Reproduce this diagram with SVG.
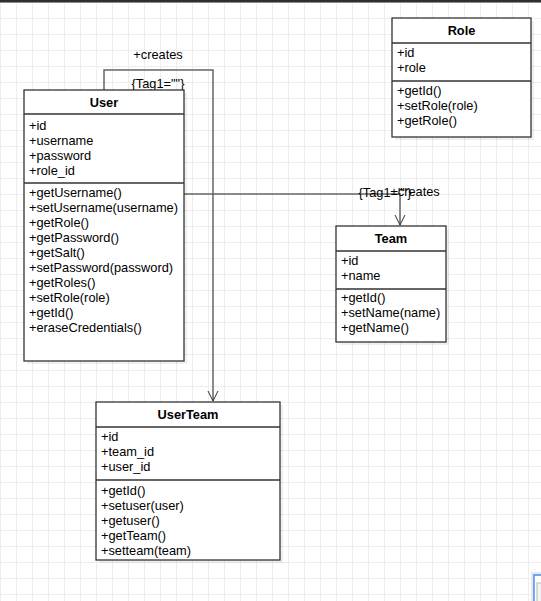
<svg xmlns="http://www.w3.org/2000/svg" width="541" height="601" viewBox="0 0 541 601">
<defs>
<pattern id="grid" width="16" height="16" patternUnits="userSpaceOnUse" x="0" y="2">
<path d="M0.5 0V16M0 0.5H16" fill="none" stroke="#ededed" stroke-width="1"/>
</pattern>
<marker id="open" markerWidth="14" markerHeight="14" refX="11" refY="6" orient="auto" markerUnits="userSpaceOnUse">
<path d="M1 1L11 6L1 11" fill="none" stroke="#333" stroke-width="1"/>
</marker>
</defs>
<style>
.box{fill:#fff;stroke:#333;stroke-width:1.3}
.shadow{fill:#000;opacity:0.06}
.div{stroke:#333;stroke-width:1.3}
.t{font-family:"Liberation Sans",Arial,sans-serif;font-size:12.8px;fill:#000}
.h{font-family:"Liberation Sans",Arial,sans-serif;font-size:12.8px;font-weight:bold;fill:#000;text-anchor:middle}
.conn{fill:none;stroke:#666;stroke-width:1.5}
.lbl{font-family:"Liberation Sans",Arial,sans-serif;font-size:12.8px;fill:#000;text-anchor:middle}
</style>
<rect width="541" height="601" fill="#fff"/>
<rect width="541" height="601" fill="url(#grid)"/>
<rect width="541" height="2.5" fill="#2b3034"/>

<g id="connectors">
<path class="conn" d="M104 90V70H213V401" marker-end="url(#open)"/>
<path class="conn" d="M184 194H400V225" marker-end="url(#open)"/>
<text class="lbl" x="158" y="59">+creates</text>
<text class="lbl" x="158" y="88">{Tag1=""}</text>
<text class="lbl" x="385" y="197">{Tag1=""}</text>
<text class="lbl" x="415" y="196">+creates</text>
</g>

<g id="User">
<rect class="shadow" x="27" y="93" width="160" height="271"/>
<rect class="box" x="24" y="90" width="160" height="271"/>
<line class="div" x1="24" y1="114" x2="184" y2="114"/>
<line class="div" x1="24" y1="183" x2="184" y2="183"/>
<text class="h" x="104" y="107">User</text>
<text class="t" x="29" y="130">+id</text>
<text class="t" x="29" y="145">+username</text>
<text class="t" x="29" y="160">+password</text>
<text class="t" x="29" y="175">+role_id</text>
<text class="t" x="29" y="197">+getUsername()</text>
<text class="t" x="29" y="212">+setUsername(username)</text>
<text class="t" x="29" y="227">+getRole()</text>
<text class="t" x="29" y="242">+getPassword()</text>
<text class="t" x="29" y="257">+getSalt()</text>
<text class="t" x="29" y="272">+setPassword(password)</text>
<text class="t" x="29" y="287">+getRoles()</text>
<text class="t" x="29" y="302">+setRole(role)</text>
<text class="t" x="29" y="317">+getId()</text>
<text class="t" x="29" y="332">+eraseCredentials()</text>
</g>

<g id="Role">
<rect class="shadow" x="395" y="21" width="139" height="119"/>
<rect class="box" x="392" y="18" width="139" height="119"/>
<line class="div" x1="392" y1="43" x2="531" y2="43"/>
<line class="div" x1="392" y1="81" x2="531" y2="81"/>
<text class="h" x="461.5" y="35">Role</text>
<text class="t" x="397" y="57">+id</text>
<text class="t" x="397" y="72">+role</text>
<text class="t" x="397" y="95">+getId()</text>
<text class="t" x="397" y="110">+setRole(role)</text>
<text class="t" x="397" y="125">+getRole()</text>
</g>

<g id="Team">
<rect class="shadow" x="339" y="229" width="110" height="116"/>
<rect class="box" x="336" y="226" width="110" height="116"/>
<line class="div" x1="336" y1="251" x2="446" y2="251"/>
<line class="div" x1="336" y1="289" x2="446" y2="289"/>
<text class="h" x="391" y="243">Team</text>
<text class="t" x="341" y="265">+id</text>
<text class="t" x="341" y="280">+name</text>
<text class="t" x="341" y="302">+getId()</text>
<text class="t" x="341" y="317">+setName(name)</text>
<text class="t" x="341" y="332">+getName()</text>
</g>

<g id="UserTeam">
<rect class="shadow" x="99" y="405" width="184" height="158"/>
<rect class="box" x="96" y="402" width="184" height="158"/>
<line class="div" x1="96" y1="427" x2="280" y2="427"/>
<line class="div" x1="96" y1="480" x2="280" y2="480"/>
<text class="h" x="188" y="419">UserTeam</text>
<text class="t" x="101" y="441">+id</text>
<text class="t" x="101" y="456">+team_id</text>
<text class="t" x="101" y="471">+user_id</text>
<text class="t" x="101" y="495">+getId()</text>
<text class="t" x="101" y="510">+setuser(user)</text>
<text class="t" x="101" y="525">+getuser()</text>
<text class="t" x="101" y="540">+getTeam()</text>
<text class="t" x="101" y="555">+setteam(team)</text>
</g>

<g id="outline-widget">
<rect x="531" y="572" width="12" height="32" fill="#e8e8e8"/>
<rect x="534" y="575" width="10" height="30" fill="#fff" stroke="#4a8df0" stroke-width="1.5"/>
<rect x="537" y="583" width="6" height="20" fill="#f4f4f4" stroke="#aaa" stroke-width="0.8"/>
</g>
</svg>
